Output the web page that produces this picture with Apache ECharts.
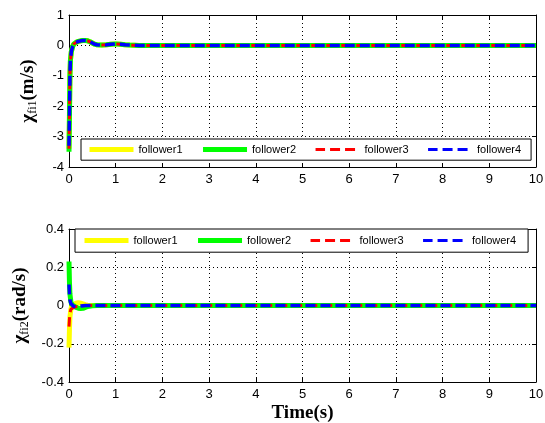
<!DOCTYPE html>
<html><head><meta charset="utf-8">
<script src="https://cdn.jsdelivr.net/npm/echarts@6/dist/echarts.min.js"></script>
<style>html,body{margin:0;padding:0;background:#fff}#c{width:545px;height:423px}</style>
</head><body><div id="c"></div>
<script>
const names = ['follower1', 'follower2', 'follower3', 'follower4'];
const colors = ['#FFFF00', '#00FF00', '#FF0000', '#0000FF'];
const xTickLabels = [0, 1, 2, 3, 4, 5, 6, 7, 8, 9, 10];
const topYTicks = [1, 0, -1, -2, -3, -4];
const botYTicks = [0.4, 0.2, 0, -0.2, -0.4];

// top panel: chi_fi1 (m/s)
const topTime = [0, 0.01, 0.02, 0.03, 0.05, 0.08, 0.1, 0.15, 0.2, 0.25, 0.3, 0.35, 0.4, 0.45, 0.5, 0.55, 0.6, 0.7, 0.8, 0.9, 1.0, 1.1, 1.2, 1.3, 1.5, 2, 3, 4, 5, 6, 7, 8, 9, 10];
const topF1 = [-3.4, -2.2, -1.0, -0.5, -0.2, -0.03, 0.04, 0.1, 0.13, 0.15, 0.16, 0.16, 0.15, 0.12, 0.08, 0.04, 0.02, 0.01, 0.02, 0.04, 0.05, 0.04, 0.02, 0.01, 0, 0, 0, 0, 0, 0, 0, 0, 0, 0];
const topF2 = [-3.5, -2.3, -1.0, -0.5, -0.2, -0.03, 0.04, 0.1, 0.13, 0.15, 0.16, 0.16, 0.15, 0.12, 0.08, 0.04, 0.02, 0.01, 0.02, 0.04, 0.05, 0.04, 0.02, 0.01, 0, 0, 0, 0, 0, 0, 0, 0, 0, 0];
const topF3 = [-3.4, -2.2, -1.0, -0.5, -0.2, -0.03, 0.04, 0.1, 0.13, 0.15, 0.16, 0.16, 0.15, 0.12, 0.08, 0.04, 0.02, 0.01, 0.02, 0.04, 0.05, 0.04, 0.02, 0.01, 0, 0, 0, 0, 0, 0, 0, 0, 0, 0];
const topF4 = [-3.3, -2.2, -1.0, -0.5, -0.2, -0.03, 0.04, 0.1, 0.13, 0.15, 0.16, 0.16, 0.15, 0.12, 0.08, 0.04, 0.02, 0.01, 0.02, 0.04, 0.05, 0.04, 0.02, 0.01, 0, 0, 0, 0, 0, 0, 0, 0, 0, 0];

// bottom panel: chi_fi2 (rad/s)
const botTime = [0, 0.01, 0.02, 0.04, 0.06, 0.08, 0.1, 0.15, 0.2, 0.25, 0.3, 0.35, 0.4, 0.5, 0.6, 0.8, 1, 2, 3, 4, 5, 6, 7, 8, 9, 10];
const botF1 = [-0.22, -0.12, -0.06, -0.02, 0, 0.005, 0.008, 0.012, 0.015, 0.012, 0.008, 0.004, 0.002, 0, 0, 0, 0, 0, 0, 0, 0, 0, 0, 0, 0, 0];
const botF2 = [0.23, 0.12, 0.06, 0.02, 0.005, 0, -0.004, -0.01, -0.014, -0.016, -0.015, -0.01, -0.005, -0.002, 0, 0, 0, 0, 0, 0, 0, 0, 0, 0, 0, 0];
const botF3 = [-0.11, -0.07, -0.04, -0.02, -0.018, -0.014, -0.01, -0.006, -0.004, -0.002, -0.001, 0, 0, 0, 0, 0, 0, 0, 0, 0, 0, 0, 0, 0, 0, 0];
const botF4 = [0.11, 0.06, 0.03, 0.01, 0.004, 0, -0.004, -0.006, -0.004, -0.002, -0.001, 0, 0, 0, 0, 0, 0, 0, 0, 0, 0, 0, 0, 0, 0, 0];

const topData = [topF1, topF2, topF3, topF4];
const botData = [botF1, botF2, botF3, botF4];

const lineStyles = [
  { width: 5, type: 'solid' },
  { width: 5, type: 'solid' },
  { width: 3, type: [10, 5], dashOffset: 0.5 },
  { width: 3.5, type: [10, 5] }
];

const sans = 'Liberation Sans, Arial, sans-serif';
const serif = 'Liberation Serif, Times New Roman, serif';

function pairs(t, v) { return t.map((x, i) => [x, v[i]]); }

function mainX(gi, showName) {
  return {
    type: 'value', gridIndex: gi, position: 'bottom', min: 0, max: 10, interval: 1,
    axisLine: { show: true, onZero: false, lineStyle: { color: '#000', width: 1 } },
    axisTick: { show: true, inside: true, length: 4, lineStyle: { color: '#000' } },
    axisLabel: { show: true, color: '#000', fontFamily: sans, fontSize: 13, margin: 6,
      formatter: v => xTickLabels.includes(v) ? String(v) : '' },
    splitLine: { show: true, lineStyle: { color: '#000', width: 1, type: [1, 3] } },
    name: showName ? 'Time(s)' : '', nameLocation: 'middle', nameGap: 22,
    nameTextStyle: { fontFamily: serif, fontSize: 19, fontWeight: 'bold', color: '#000' }
  };
}
function boxX(gi) {
  return {
    type: 'value', gridIndex: gi, position: 'top', min: 0, max: 10, interval: 1,
    axisLine: { show: true, onZero: false, lineStyle: { color: '#000', width: 1 } },
    axisTick: { show: true, inside: true, length: 4, lineStyle: { color: '#000' } },
    axisLabel: { show: false }, splitLine: { show: false }
  };
}
function mainY(gi, min, max, interval, name) {
  return {
    type: 'value', gridIndex: gi, position: 'left', min: min, max: max, interval: interval,
    axisLine: { show: true, onZero: false, lineStyle: { color: '#000', width: 1 } },
    axisTick: { show: true, inside: true, length: 4, lineStyle: { color: '#000' } },
    axisLabel: { show: true, color: '#000', fontFamily: sans, fontSize: 13, margin: 5 },
    splitLine: { show: true, lineStyle: { color: '#000', width: 1, type: [1, 3] } },
    name: name, nameLocation: 'middle', nameGap: 30, nameRotate: 90,
    nameTextStyle: {
      rich: {
        a: { fontFamily: serif, fontSize: 19, fontWeight: 'bold', color: '#000', lineHeight: 22 },
        b: { fontFamily: serif, fontSize: 12, color: '#000', lineHeight: 12, verticalAlign: 'bottom' }
      }
    }
  };
}
function boxY(gi, min, max, interval) {
  return {
    type: 'value', gridIndex: gi, position: 'right', min: min, max: max, interval: interval,
    axisLine: { show: true, onZero: false, lineStyle: { color: '#000', width: 1 } },
    axisTick: { show: true, inside: true, length: 4, lineStyle: { color: '#000' } },
    axisLabel: { show: false }, splitLine: { show: false }
  };
}

const series = [];
names.forEach((n, i) => {
  series.push({
    name: n, type: 'line', xAxisIndex: 0, yAxisIndex: 0, symbol: 'none',
    data: pairs(topTime, topData[i]), color: colors[i],
    lineStyle: Object.assign({ color: colors[i] }, lineStyles[i]), z: 2 + i
  });
});
names.forEach((n, i) => {
  series.push({
    name: n, type: 'line', xAxisIndex: 2, yAxisIndex: 2, symbol: 'none',
    data: pairs(botTime, botData[i]), color: colors[i],
    lineStyle: Object.assign({ color: colors[i] }, lineStyles[i]), z: 2 + i
  });
});

function legend(left, top, pad) {
  return {
    left: left, top: top, orient: 'horizontal', itemWidth: 44, itemHeight: 14, itemGap: 18,
    padding: pad, borderColor: '#000', borderWidth: 1, backgroundColor: '#fff',
    selectedMode: false,
    textStyle: { fontFamily: sans, fontSize: 11, color: '#000' },
    data: names.map((n, i) => ({
      name: n,
      itemStyle: { color: 'rgba(0,0,0,0)', borderWidth: 0, opacity: 0 },
      lineStyle: { color: colors[i], width: i < 2 ? 5 : 3, type: i < 2 ? 'solid' : [10, 5], opacity: 1 }
    })),
    z: 10
  };
}

const chart = echarts.init(document.getElementById('c'), null, { renderer: 'canvas' });
chart.setOption({
  animation: false,
  backgroundColor: '#fff',
  grid: [
    { left: 69, top: 15, width: 467, height: 152, outerBoundsMode: 'none' },
    { left: 69, top: 229, width: 467, height: 153, outerBoundsMode: 'none' }
  ],
  xAxis: [mainX(0, false), boxX(0), mainX(1, true), boxX(1)],
  yAxis: [
    mainY(0, -4, 1, 1, '{a|χ}{b|fi1}{a|(m/s)}'), boxY(0, -4, 1, 1),
    mainY(1, -0.4, 0.4, 0.2, '{a|χ}{b|fi2}{a|(rad/s)}'), boxY(1, -0.4, 0.4, 0.2)
  ],
  legend: [legend(81, 139, [5, 10, 5, 6]), legend(75, 229, [6, 12, 6, 7])],
  series: series
});
</script></body></html>
